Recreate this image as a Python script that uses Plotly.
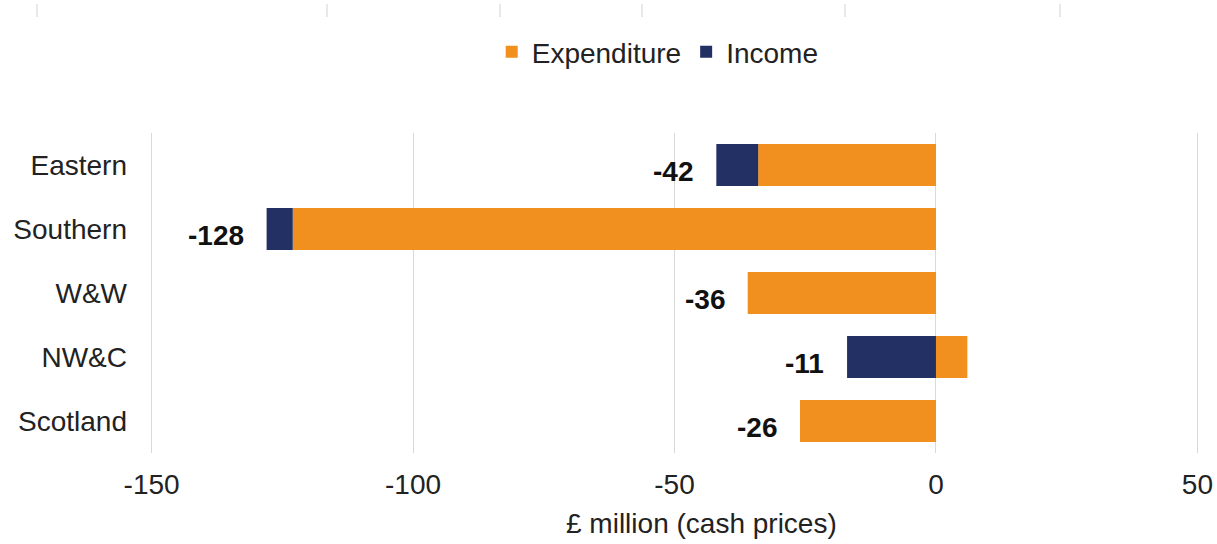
import plotly.graph_objects as go

regions = ["Eastern", "Southern", "W&W", "NW&C", "Scotland"]
expenditure = [-34, -123, -36, 6, -26]
income = [-8, -5, 0, -17, 0]
totals = [-42, -128, -36, -11, -26]
x_ticks = [-150, -100, -50, 0, 50]
x_tick_text = ["-150", "-100", "-50", "0", "50"]

ORANGE = "#F18F1F"
NAVY = "#233064"
FONT = "Liberation Sans, Arial, sans-serif"
FS = 28

W, H = 1217, 544
L, R, T, B = 150, 1199, 133, 453

fig = go.Figure()
fig.add_trace(go.Bar(y=regions, x=expenditure, orientation="h", name="Expenditure",
                     marker=dict(color=ORANGE, line=dict(width=0))))
fig.add_trace(go.Bar(y=regions, x=income, orientation="h", name="Income",
                     marker=dict(color=NAVY, line=dict(width=0))))

annotations = []
for r, e, i, t in zip(regions, expenditure, income, totals):
    left = min(0, e) + min(0, i)
    annotations.append(dict(x=left, y=r, xref="x", yref="y", text=f"<b>{t}</b>",
                            showarrow=False, xanchor="right", yanchor="middle",
                            xshift=-21, yshift=-6,
                            font=dict(family=FONT, size=FS, color="#111111")))

annotations.append(dict(x=0.526, y=-0.219, xref="paper", yref="paper",
                        text="£ million (cash prices)", showarrow=False,
                        xanchor="center", yanchor="middle",
                        font=dict(family=FONT, size=FS, color="#222222")))

# faint border remnants along the top edge
shapes = []
for px in [37, 327, 500, 642, 845, 1060]:
    xp = (px - L) / (R - L)
    shapes.append(dict(type="line", xref="paper", yref="paper",
                       x0=xp, x1=xp, y0=1 + (T - 4) / (B - T), y1=1 + (T - 17) / (B - T),
                       line=dict(color="#E0E0E0", width=1.5)))

fig.update_layout(
    barmode="relative",
    bargap=0.34,
    width=W, height=H,
    margin=dict(l=L, r=W - R, t=T, b=H - B, autoexpand=False),
    paper_bgcolor="white", plot_bgcolor="white",
    font=dict(family=FONT, size=FS, color="#222222"),
    legend=dict(orientation="h", x=0.484, y=1.253, xanchor="center", yanchor="middle",
                font=dict(family=FONT, size=FS, color="#222222"),
                itemwidth=30, bgcolor="rgba(0,0,0,0)"),
    xaxis=dict(range=[-150.3, 50.3], tickvals=x_ticks, ticktext=x_tick_text,
               showgrid=True, gridcolor="#D9D9D9", automargin=False,
               gridwidth=1, zeroline=False, showline=False, ticks="",
               ticklabelstandoff=12,
               tickfont=dict(family=FONT, size=FS, color="#222222")),
    yaxis=dict(autorange="reversed", showgrid=False, zeroline=False, showline=False,
               ticks="", ticklabelstandoff=22, automargin=False,
               tickfont=dict(family=FONT, size=FS, color="#222222")),
    annotations=annotations,
    shapes=shapes,
)

fig.write_html("out.html", config={"displayModeBar": False},
               post_script="document.body.style.margin='0';document.body.style.overflow='hidden';")
